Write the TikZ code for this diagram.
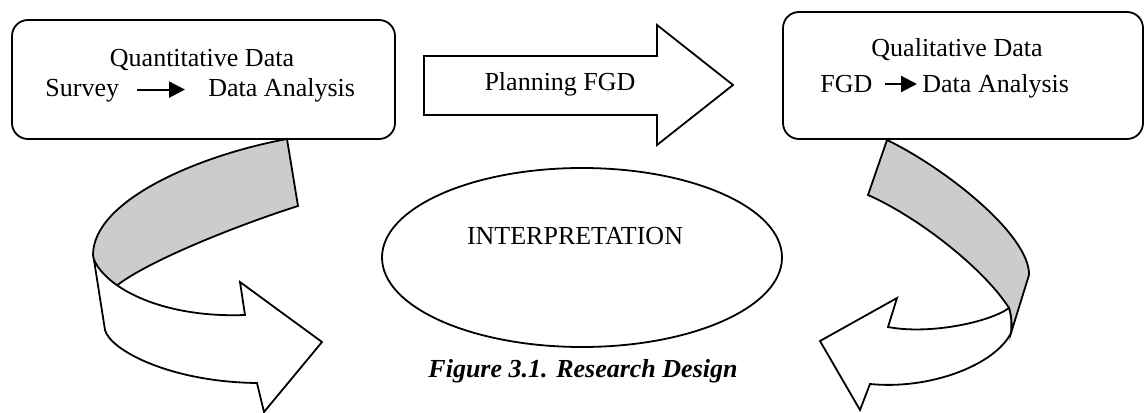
\documentclass[tikz,border=0pt]{standalone}
\usepackage{fontspec}
\setmainfont{Liberation Serif}
\usetikzlibrary{arrows.meta,shapes.geometric}

\tikzset{
  outline/.style={draw=black,line width=0.9pt,line join=miter},
  roundbox/.style={outline,rectangle,rounded corners=8pt,fill=white},
  txt/.style={inner sep=0pt,font=\fontsize{13}{15}\selectfont},
  flow/.style={line width=1.1pt,-{Triangle[length=8pt,width=8pt]}},
  back/.style={outline,fill=black!20},
  front/.style={outline,fill=white},
}

\begin{document}
\begin{tikzpicture}[x=0.5pt,y=-0.5pt]
\useasboundingbox (0,0) rectangle (1145,412);

% the two data boxes
\node[roundbox,minimum width=191.5pt,minimum height=59.5pt] (quant) at (203.5,79.5) {};
\node[roundbox,minimum width=180pt,minimum height=63.5pt] (qual) at (963,75.5) {};

% quantitative strand
\node[txt,anchor=base] (quanttitle) at (202,66) {Quantitative Data};
\node[txt,anchor=base west] (survey) at (45,96) {Survey};
\node[txt,anchor=base west] (quantana) at (208,96) {Data Analysis};
\draw[flow] ([xshift=9pt,yshift=3.2pt]survey.base east) -- ([xshift=-11.5pt,yshift=3.2pt]quantana.base west);

% qualitative strand
\node[txt,anchor=base] (qualtitle) at (957,56) {Qualitative Data};
\node[txt,anchor=base west] (fgd) at (820,92) {FGD};
\node[txt,anchor=base west] (qualana) at (922,92) {Data Analysis};
\draw[flow] ([xshift=6pt,yshift=4pt]fgd.base east) -- ([xshift=-2.5pt,yshift=4pt]qualana.base west);

% block arrow between the boxes
\draw[outline,fill=white] (424,56) -- (657,56) -- (657,25) -- (733,85)
  -- (657,145) -- (657,115) -- (424,115) -- cycle;
\node[txt,anchor=base] (plan) at (560,90) {Planning FGD};

% central ellipse
\node[outline,ellipse,minimum width=200pt,minimum height=89.5pt] (interp) at (582,257.5) {};
\node[txt,anchor=base] (interplabel) at (575,244) {INTERPRETATION};

% left curved arrow: back face
\draw[back] (287,139) .. controls (200,155) and (93,200) .. (93,255)
  -- (94,260) .. controls (99,272) and (106,281) .. (115,287)
  .. controls (145,262) and (238,225) .. (298,206) -- cycle;
% left curved arrow: front face with head
\draw[front] (94,260) .. controls (108,290) and (165,318) .. (245,315)
  -- (240,282) -- (322,342) -- (264,412) -- (257,383)
  .. controls (170,382) and (110,350) .. (105,330) -- cycle;

% right curved arrow: back face
\draw[back] (887,140) .. controls (945,168) and (1030,235) .. (1029,275)
  -- (1011,333) .. controls (1012,322) and (1011,315) .. (1009,308)
  .. controls (985,270) and (920,218) .. (868,195) -- cycle;
% right curved arrow: front face with head
\draw[front] (1009,308) .. controls (990,322) and (930,335) .. (888,327)
  -- (897,298) -- (820,341) -- (860,410) -- (870,384)
  .. controls (930,390) and (995,365) .. (1011,333)
  .. controls (1012,322) and (1011,315) .. (1009,308) -- cycle;

% caption
\node[txt,anchor=base,font=\fontsize{13}{15}\selectfont\bfseries\itshape] (caption) at (583,377) {Figure 3.1. Research Design};
\end{tikzpicture}
\end{document}
